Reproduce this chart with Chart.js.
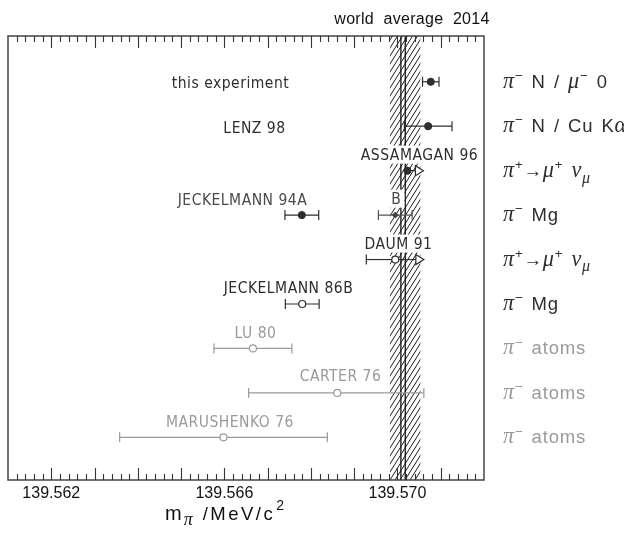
<!DOCTYPE html>
<html><head><meta charset="utf-8">
<script src="https://cdn.jsdelivr.net/npm/chart.js@4.4.0/dist/chart.umd.min.js"></script>
<style>html,body{margin:0;padding:0;background:#fff}#wrap{width:624px;height:543px;position:relative}</style>
</head><body><div id="wrap"><canvas id="c"></canvas></div>
<script>
// ---- data ----
const experiments = ['this experiment','LENZ 98','ASSAMAGAN 96','JECKELMANN 94A','DAUM 91','JECKELMANN 86B','LU 80','CARTER 76','MARUSHENKO 76'];
const masses      = [139.57077, 139.57071, 139.57023, 139.56779, 139.56995, 139.56780, 139.56666, 139.56861, 139.56598];
const errLow      = [0.00019, 0.00055, 0, 0.00039, 0.00067, 0.00039, 0.00090, 0.00205, 0.00240];
const errHigh     = [0.00019, 0.00055, 0, 0.00039, 0, 0.00039, 0.00090, 0.00200, 0.00240];
const arrowEnds   = [null, null, 139.57060, null, 139.57061, null, null, null, null];
const markerKind  = ['filled','filled','filled','filled','open','open','open','open','open'];
const faded       = [false,false,false,false,false,false,true,true,true];
const processes   = ['π^− N / μ^− 0','π^− N / Cu Kα','π^+→μ^+ ν_μ','π^− Mg','π^+→μ^+ ν_μ','π^− Mg','π^− atoms','π^− atoms','π^− atoms'];
const secondSolution = {row:3, mass:139.56995, err:0.00039, label:'B'};
const worldAverage = 139.57018, worldError = 0.00035, worldAverageLine2 = 139.57008;
const tickLabels = [139.562, 139.566, 139.570];
const xMin = 139.561, xMax = 139.572;
// label layout (centre in mass units, offset in rows)
const labelCentre = [139.566142, 139.566696, 139.570509, 139.566419, 139.570024, 139.567482, 139.56672, 139.568684, 139.56613];
const labelDy     = [0.03, 0.04, -0.36, -0.34, -0.36, -0.36, -0.34, -0.38, -0.35];

const DARK = '#2e2e2e', GRAY = '#9a9a9a';
const LBL_FONT = '15.5px "Liberation Sans Narrow","DejaVu Sans Condensed",sans-serif';

function pts(kind, fade){
  const out=[];
  masses.forEach((m,i)=>{ if(markerKind[i]===kind && faded[i]===fade) out.push({x:m,y:i}); });
  return out;
}

function drawRich(ctx, str, x, y, color, size){
  ctx.fillStyle=color; ctx.textBaseline='alphabetic'; ctx.textAlign='left';
  let i=0;
  while(i<str.length){
    let ch=str[i], mode=0;
    if(ch==='^'){mode=1; ch=str[++i];} else if(ch==='_'){mode=-1; ch=str[++i];}
    const greek='πμνα'.includes(ch);
    const fs = mode ? size*0.72 : size;
    ctx.font = greek ? ('italic '+(fs*1.2).toFixed(1)+'px "Liberation Serif","DejaVu Serif",serif')
                     : (fs.toFixed(1)+'px "Liberation Sans","DejaVu Sans",sans-serif');
    const dy = mode===1 ? -size*0.42 : (mode===-1 ? size*0.32 : 0);
    ctx.fillText(ch, x, y+dy);
    x += ctx.measureText(ch).width + (ch===' '?3:0.8);
    i++;
  }
  return x;
}

function hatchPattern(ctx){
  const c=document.createElement('canvas'); c.width=5; c.height=8;
  const g=c.getContext('2d'); g.strokeStyle='#1e1e1e'; g.lineWidth=1;
  g.beginPath();
  g.moveTo(0,8); g.lineTo(5,0);
  g.moveTo(-1,1.6); g.lineTo(1,-1.6);
  g.moveTo(4,9.6); g.lineTo(6,6.4);
  g.stroke();
  return ctx.createPattern(c,'repeat');
}

const decor = {
  id:'decor',
  beforeDatasetsDraw(chart){
    const {ctx, chartArea:a, scales:{x,y}} = chart;
    ctx.save();
    // world average band
    const bx0 = x.getPixelForValue(worldAverage-worldError), bx1 = x.getPixelForValue(worldAverage+worldError);
    ctx.fillStyle = hatchPattern(ctx);
    ctx.fillRect(bx0, a.top, bx1-bx0, a.bottom-a.top);
    ctx.strokeStyle='#111'; ctx.lineWidth=1.3;
    [worldAverage, worldAverageLine2].forEach(v=>{
      const px=x.getPixelForValue(v);
      ctx.beginPath(); ctx.moveTo(px,a.top); ctx.lineTo(px,a.bottom); ctx.stroke();
    });
    // labels with white backing
    ctx.font = LBL_FONT; ctx.textAlign='center'; ctx.textBaseline='middle';
    try{ ctx.letterSpacing='0.5px'; }catch(e){}
    const drawLabel=(t,cx,cy,col)=>{
      const w=ctx.measureText(t).width;
      ctx.fillStyle='#fff'; ctx.fillRect(cx-w/2-3, cy-9, w+6, 18);
      ctx.fillStyle=col; ctx.fillText(t,cx,cy+1);
    };
    experiments.forEach((t,i)=>{
      drawLabel(t, x.getPixelForValue(labelCentre[i]), y.getPixelForValue(i+labelDy[i]), faded[i]?GRAY:(i===3?'#4a4a4a':DARK));
    });
    drawLabel(secondSolution.label, x.getPixelForValue(secondSolution.mass)+1, y.getPixelForValue(secondSolution.row-0.37), '#4a4a4a');
    try{ ctx.letterSpacing='0px'; }catch(e){}
    // error bars
    const bar=(m,lo,hi,row,col)=>{
      const py=y.getPixelForValue(row);
      ctx.strokeStyle=col; ctx.lineWidth=1.2;
      const l=x.getPixelForValue(m-lo), r=x.getPixelForValue(m+hi);
      ctx.beginPath(); ctx.moveTo(l,py); ctx.lineTo(r,py); ctx.stroke();
      if(lo>0){ ctx.beginPath(); ctx.moveTo(l,py-5); ctx.lineTo(l,py+5); ctx.stroke(); }
      if(hi>0){ ctx.beginPath(); ctx.moveTo(r,py-5); ctx.lineTo(r,py+5); ctx.stroke(); }
    };
    masses.forEach((m,i)=>{
      const col = faded[i]?GRAY:DARK;
      if(errLow[i]>0||errHigh[i]>0) bar(m,errLow[i],errHigh[i],i,col);
      if(arrowEnds[i]!==null){
        const py=y.getPixelForValue(i), c=x.getPixelForValue(m), e=x.getPixelForValue(arrowEnds[i]);
        ctx.strokeStyle=col; ctx.lineWidth=1.2;
        ctx.beginPath(); ctx.moveTo(c,py); ctx.lineTo(e-7,py); ctx.stroke();
        ctx.fillStyle='#fff';
        ctx.beginPath(); ctx.moveTo(e,py); ctx.lineTo(e-8,py-5); ctx.lineTo(e-8,py+5); ctx.closePath(); ctx.fill(); ctx.stroke();
      }
    });
    bar(secondSolution.mass, secondSolution.err, secondSolution.err, secondSolution.row, '#555');
    ctx.restore();
  },
  afterDraw(chart){
    const {ctx, chartArea:a, scales:{x,y}} = chart;
    ctx.save();
    // frame
    ctx.strokeStyle='#444'; ctx.lineWidth=1.5;
    ctx.strokeRect(a.left, a.top, a.right-a.left, a.bottom-a.top);
    // ticks inward
    ctx.strokeStyle='#333'; ctx.lineWidth=1.1;
    const nMinor = Math.round((xMax-xMin)/0.0002);
    for(let k=1;k<nMinor;k++){
      const v = xMin + k*0.0002;
      const major = (k%5===0);
      const len = major?12:6;
      const px = Math.round(x.getPixelForValue(v))+0.5;
      ctx.beginPath(); ctx.moveTo(px,a.top); ctx.lineTo(px,a.top+len);
      ctx.moveTo(px,a.bottom); ctx.lineTo(px,a.bottom-len); ctx.stroke();
    }
    // world average label
    ctx.fillStyle='#111'; ctx.font='16px "Liberation Sans","DejaVu Sans",sans-serif';
    ctx.textAlign='center'; ctx.textBaseline='alphabetic';
    try{ ctx.letterSpacing='0.3px'; }catch(e){}
    ctx.fillText('world  average  2014', 412, 24);
    try{ ctx.letterSpacing='0px'; }catch(e){}
    // process labels on the right
    processes.forEach((p,i)=>{
      drawRich(ctx, p, a.right+19, y.getPixelForValue(i)+6, faded[i]?GRAY:DARK, 18.5);
    });
    // axis title
    let tx = 165, ty = 520;
    ctx.fillStyle='#111'; ctx.textAlign='left';
    ctx.font='20px "Liberation Sans","DejaVu Sans",sans-serif';
    ctx.fillText('m', tx, ty); tx += ctx.measureText('m').width + 2;
    ctx.font='italic 18px "Liberation Serif","DejaVu Serif",serif';
    ctx.fillText('π', tx, ty+5); tx += ctx.measureText('π').width + 10;
    ctx.font='18.5px "Liberation Sans","DejaVu Sans",sans-serif';
    try{ ctx.letterSpacing='2.5px'; }catch(e){}
    ctx.fillText('/MeV/c', tx, ty); tx += ctx.measureText('/MeV/c').width + 1;
    try{ ctx.letterSpacing='0px'; }catch(e){}
    ctx.font='14px "Liberation Sans","DejaVu Sans",sans-serif';
    ctx.fillText('2', tx, ty-10);
    ctx.restore();
  }
};

new Chart(document.getElementById('c'), {
  type:'scatter',
  data:{ datasets:[
    {data:pts('filled',false), pointRadius:3.6, pointBackgroundColor:DARK, pointBorderColor:DARK, pointBorderWidth:1},
    {data:[{x:secondSolution.mass, y:secondSolution.row}], pointRadius:3, pointStyle:'rectRot', pointBackgroundColor:'#444', pointBorderColor:'#444'},
    {data:pts('open',false), pointRadius:3.5, pointBackgroundColor:'#fff', pointBorderColor:DARK, pointBorderWidth:1.2},
    {data:pts('open',true), pointRadius:3.5, pointBackgroundColor:'#fff', pointBorderColor:GRAY, pointBorderWidth:1.2}
  ]},
  options:{
    responsive:true, maintainAspectRatio:false, animation:false,
    devicePixelRatio:1,
    layout:{padding:{left:8, right:140, top:36, bottom:0}},
    plugins:{legend:{display:false}, tooltip:{enabled:false}},
    scales:{
      x:{type:'linear', min:xMin, max:xMax,
         grid:{display:false, drawTicks:false}, border:{display:false},
         afterBuildTicks:s=>{ s.ticks = tickLabels.map(v=>({value:v})); },
         afterFit:s=>{ s.height = 63; },
         ticks:{autoSkip:false, maxRotation:0, padding:4, color:'#111',
                font:{family:'"Liberation Sans","DejaVu Sans",sans-serif', size:16},
                callback:v=>Number(v).toFixed(3)}},
      y:{type:'linear', min:-1.03, max:8.96, reverse:true, display:false}
    }
  },
  plugins:[decor]
});
</script></body></html>
